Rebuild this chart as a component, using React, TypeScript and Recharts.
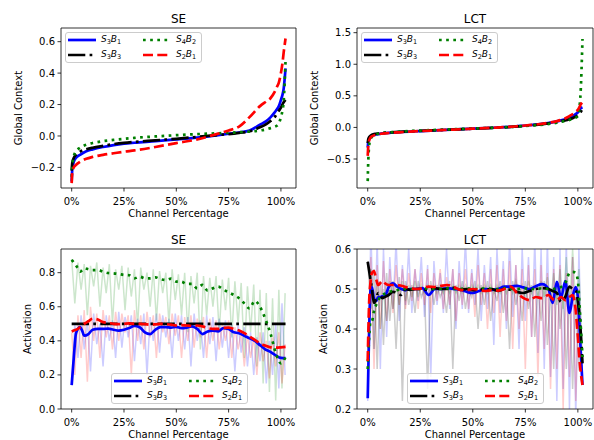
import React from 'react'
import { LineChart, Line, XAxis, YAxis, ReferenceArea, Legend } from 'recharts'

// ─── Data ─────────────────────────────────────────────────────────────────────

const X_TICKS = [0, 25, 50, 75, 100]
const X_DOMAIN: [number, number] = [-5.1, 107.2]

// top row: sorted global-context values per channel percentage
const TOP_X = [0, 0.3, 1, 2, 4, 7, 10, 15, 20, 25, 30, 40, 50, 60, 70, 75, 80, 85, 90, 93, 95, 97, 98, 99, 100, 100.7, 101.3, 102.2]

const SE_GC_S3B1 = [-0.29, -0.21, -0.165, -0.14, -0.12, -0.097, -0.085, -0.07, -0.058, -0.049, -0.043, -0.033, -0.022, -0.01, 0.005, 0.014, 0.022, 0.035, 0.072, 0.095, 0.118, 0.15, 0.168, 0.19, 0.23, 0.26, 0.3, 0.43]
const SE_GC_S3B3 = [-0.22, -0.17, -0.14, -0.12, -0.1, -0.085, -0.075, -0.063, -0.052, -0.044, -0.038, -0.028, -0.018, -0.006, 0.006, 0.012, 0.02, 0.03, 0.055, 0.075, 0.095, 0.12, 0.14, 0.16, 0.18, 0.2, 0.215, 0.23]
const SE_GC_S4B2 = [-0.26, -0.2, -0.13, -0.1, -0.075, -0.055, -0.045, -0.033, -0.025, -0.018, -0.012, -0.003, 0.005, 0.012, 0.017, 0.02, 0.024, 0.028, 0.035, 0.042, 0.05, 0.058, 0.065, 0.08, 0.12, 0.16, 0.22, 0.48]
const SE_GC_S2B1 = [-0.3, -0.23, -0.2, -0.185, -0.165, -0.145, -0.133, -0.12, -0.11, -0.1, -0.092, -0.07, -0.045, -0.022, 0.015, 0.035, 0.06, 0.12, 0.19, 0.22, 0.24, 0.28, 0.31, 0.34, 0.4, 0.46, 0.53, 0.62]

const LCT_GC_S3B1 = [-0.32, -0.22, -0.16, -0.13, -0.11, -0.095, -0.085, -0.075, -0.065, -0.058, -0.05, -0.035, -0.02, -0.005, 0.015, 0.03, 0.045, 0.065, 0.095, 0.12, 0.14, 0.17, 0.19, 0.21, 0.24, 0.27, 0.3, 0.32]
const LCT_GC_S3B3 = [-0.25, -0.18, -0.14, -0.115, -0.1, -0.088, -0.08, -0.07, -0.062, -0.055, -0.048, -0.034, -0.02, -0.006, 0.012, 0.025, 0.04, 0.06, 0.085, 0.105, 0.12, 0.14, 0.155, 0.17, 0.19, 0.21, 0.24, 0.3]
const LCT_GC_S4B2 = [-0.85, -0.5, -0.22, -0.15, -0.11, -0.09, -0.08, -0.068, -0.058, -0.05, -0.043, -0.03, -0.017, -0.004, 0.012, 0.022, 0.035, 0.05, 0.075, 0.095, 0.11, 0.13, 0.14, 0.155, 0.18, 0.3, 0.55, 1.4]
const LCT_GC_S2B1 = [-0.45, -0.28, -0.18, -0.14, -0.115, -0.098, -0.088, -0.077, -0.067, -0.058, -0.05, -0.035, -0.02, -0.005, 0.015, 0.03, 0.045, 0.068, 0.1, 0.13, 0.16, 0.2, 0.22, 0.25, 0.28, 0.32, 0.36, 0.4]

// bottom row: raw activations (faint) and smoothed activations
const RAW_X = [0, 1.5, 3, 4.5, 6, 7.5, 9, 10.5, 12, 13.5, 15, 16.5, 18, 19.5, 21, 22.5, 24, 25.5, 27, 28.5, 30, 31.5, 33, 34.5, 36, 37.5, 39, 40.5, 42, 43.5, 45, 46.5, 48, 49.5, 51, 52.5, 54, 55.5, 57, 58.5, 60, 61.5, 63, 64.5, 66, 67.5, 69, 70.5, 72, 73.5, 75, 76.5, 78, 79.5, 81, 82.5, 84, 85.5, 87, 88.5, 90, 91.5, 93, 94.5, 96, 97.5, 99, 100.5, 102]

const SE_RAW_S3B1 = [
  0.14, 0.5, 0.3, 0.55, 0.35, 0.52, 0.22, 0.56, 0.38, 0.5,
  0.25, 0.55, 0.4, 0.52, 0.3, 0.57, 0.36, 0.54, 0.42, 0.55,
  0.28, 0.53, 0.38, 0.56, 0.2, 0.54, 0.4, 0.56, 0.33, 0.55,
  0.42, 0.53, 0.3, 0.56, 0.4, 0.55, 0.35, 0.54, 0.25, 0.56,
  0.4, 0.52, 0.3, 0.55, 0.38, 0.54, 0.28, 0.53, 0.36, 0.52,
  0.3, 0.5, 0.22, 0.5, 0.33, 0.48, 0.25, 0.45, 0.2, 0.42,
  0.28, 0.45, 0.15, 0.4, 0.2, 0.5, 0.12, 0.62, 0.2,
]
const SE_RAW_S4B2 = [
  0.88, 0.62, 0.86, 0.7, 0.85, 0.55, 0.84, 0.72, 0.86, 0.6,
  0.83, 0.68, 0.85, 0.5, 0.82, 0.7, 0.84, 0.58, 0.83, 0.66,
  0.82, 0.48, 0.83, 0.7, 0.8, 0.6, 0.82, 0.52, 0.81, 0.68,
  0.8, 0.5, 0.82, 0.64, 0.79, 0.55, 0.8, 0.45, 0.78, 0.62,
  0.8, 0.35, 0.78, 0.55, 0.77, 0.6, 0.78, 0.45, 0.76, 0.58,
  0.77, 0.42, 0.75, 0.5, 0.74, 0.3, 0.72, 0.45, 0.73, 0.25,
  0.7, 0.15, 0.68, 0.1, 0.65, 0.05, 0.7, 0.12, 0.68,
]
const SE_RAW_S2B1 = [
  0.45, 0.2, 0.55, 0.3, 0.58, 0.16, 0.6, 0.4, 0.56, 0.3,
  0.58, 0.42, 0.55, 0.35, 0.57, 0.4, 0.56, 0.45, 0.55, 0.2,
  0.58, 0.4, 0.55, 0.35, 0.57, 0.42, 0.55, 0.3, 0.56, 0.45,
  0.54, 0.38, 0.56, 0.43, 0.55, 0.3, 0.54, 0.4, 0.55, 0.36,
  0.53, 0.42, 0.54, 0.3, 0.53, 0.4, 0.52, 0.35, 0.5, 0.4,
  0.52, 0.3, 0.48, 0.35, 0.45, 0.25, 0.44, 0.3, 0.42, 0.2,
  0.45, 0.28, 0.4, 0.18, 0.42, 0.25, 0.45, 0.15, 0.38,
]

const LCT_RAW_S3B1 = [
  0.22, 0.65, 0.35, 0.62, 0.3, 0.6, 0.38, 0.58, 0.45, 0.62,
  0.42, 0.56, 0.46, 0.6, 0.44, 0.55, 0.47, 0.58, 0.43, 0.56,
  0.28, 0.57, 0.46, 0.54, 0.44, 0.6, 0.45, 0.55, 0.4, 0.57,
  0.45, 0.62, 0.44, 0.55, 0.46, 0.6, 0.42, 0.56, 0.45, 0.58,
  0.36, 0.6, 0.44, 0.57, 0.4, 0.62, 0.43, 0.56, 0.35, 0.6,
  0.42, 0.58, 0.38, 0.62, 0.34, 0.6, 0.3, 0.62, 0.28, 0.58,
  0.22, 0.6, 0.25, 0.62, 0.2, 0.58, 0.18, 0.6, 0.26,
]
const LCT_RAW_S3B3 = [
  0.57, 0.45, 0.55, 0.3, 0.52, 0.36, 0.54, 0.42, 0.52, 0.35,
  0.53, 0.22, 0.52, 0.46, 0.51, 0.44, 0.52, 0.48, 0.5, 0.25,
  0.52, 0.46, 0.51, 0.48, 0.5, 0.44, 0.52, 0.3, 0.51, 0.47,
  0.52, 0.45, 0.5, 0.48, 0.52, 0.4, 0.51, 0.46, 0.52, 0.42,
  0.5, 0.47, 0.52, 0.44, 0.51, 0.35, 0.52, 0.46, 0.5, 0.42,
  0.52, 0.45, 0.51, 0.38, 0.5, 0.42, 0.52, 0.36, 0.5, 0.3,
  0.52, 0.4, 0.48, 0.3, 0.5, 0.25, 0.48, 0.3, 0.31,
]
const LCT_RAW_S4B2 = [
  0.3, 0.55, 0.35, 0.52, 0.4, 0.5, 0.42, 0.52, 0.45, 0.51,
  0.46, 0.52, 0.47, 0.51, 0.48, 0.52, 0.48, 0.51, 0.49, 0.51,
  0.49, 0.51, 0.49, 0.51, 0.49, 0.51, 0.49, 0.51, 0.49, 0.51,
  0.49, 0.51, 0.49, 0.51, 0.49, 0.51, 0.49, 0.51, 0.49, 0.51,
  0.49, 0.51, 0.49, 0.51, 0.49, 0.51, 0.49, 0.52, 0.49, 0.51,
  0.48, 0.52, 0.49, 0.51, 0.48, 0.52, 0.48, 0.53, 0.47, 0.54,
  0.46, 0.55, 0.45, 0.58, 0.44, 0.6, 0.45, 0.55, 0.35,
]
const LCT_RAW_S2B1 = [
  0.32, 0.58, 0.3, 0.56, 0.4, 0.57, 0.42, 0.55, 0.44, 0.56,
  0.46, 0.55, 0.45, 0.54, 0.47, 0.55, 0.45, 0.54, 0.46, 0.55,
  0.44, 0.54, 0.47, 0.55, 0.45, 0.53, 0.46, 0.55, 0.42, 0.54,
  0.46, 0.55, 0.45, 0.54, 0.43, 0.56, 0.46, 0.54, 0.4, 0.55,
  0.44, 0.56, 0.38, 0.55, 0.42, 0.57, 0.35, 0.56, 0.4, 0.55,
  0.3, 0.56, 0.38, 0.55, 0.28, 0.56, 0.35, 0.54, 0.25, 0.55,
  0.3, 0.56, 0.2, 0.54, 0.28, 0.58, 0.22, 0.5, 0.26,
]

const SE_SM_X = [0, 1, 2, 3, 4, 5, 6, 8, 10, 12.5, 15, 17.5, 20, 22.5, 25, 27.5, 30, 32.5, 35, 37.5, 40, 42.5, 45, 47.5, 50, 52.5, 55, 57.5, 60, 62.5, 65, 67.5, 70, 72.5, 75, 77.5, 80, 82.5, 85, 87.5, 90, 92.5, 95, 97.5, 100, 102.2]

const SE_SM_S3B1 = [
  0.14, 0.3, 0.44, 0.47, 0.48, 0.46, 0.43, 0.44, 0.465, 0.47,
  0.47, 0.472, 0.465, 0.46, 0.465, 0.475, 0.488, 0.48, 0.45, 0.44,
  0.465, 0.48, 0.48, 0.478, 0.482, 0.475, 0.478, 0.485, 0.47, 0.44,
  0.455, 0.46, 0.455, 0.475, 0.47, 0.45, 0.445, 0.43, 0.415, 0.4,
  0.375, 0.35, 0.335, 0.315, 0.3, 0.298,
]
const SE_SM_S3B3 = [
  0.5, 0.5, 0.5, 0.5, 0.5, 0.5, 0.5, 0.5, 0.5, 0.5,
  0.5, 0.5, 0.5, 0.5, 0.5, 0.5, 0.5, 0.5, 0.5, 0.5,
  0.5, 0.5, 0.5, 0.5, 0.5, 0.5, 0.5, 0.5, 0.5, 0.5,
  0.5, 0.5, 0.5, 0.5, 0.5, 0.5, 0.5, 0.5, 0.5, 0.5,
  0.5, 0.5, 0.5, 0.5, 0.5, 0.5,
]
const SE_SM_S4B2 = [
  0.875, 0.86, 0.845, 0.825, 0.806, 0.815, 0.826, 0.82, 0.815, 0.816,
  0.806, 0.798, 0.796, 0.792, 0.787, 0.785, 0.767, 0.777, 0.767, 0.767,
  0.773, 0.762, 0.757, 0.765, 0.748, 0.747, 0.734, 0.734, 0.708, 0.728,
  0.695, 0.708, 0.718, 0.7, 0.685, 0.669, 0.65, 0.62, 0.59, 0.635,
  0.6, 0.53, 0.444, 0.33, 0.268, 0.305,
]
const SE_SM_S2B1 = [
  0.455, 0.46, 0.465, 0.47, 0.48, 0.49, 0.5, 0.515, 0.53, 0.525,
  0.51, 0.505, 0.5, 0.498, 0.5, 0.502, 0.5, 0.5, 0.498, 0.495,
  0.497, 0.5, 0.498, 0.495, 0.49, 0.492, 0.49, 0.488, 0.49, 0.485,
  0.475, 0.47, 0.47, 0.475, 0.478, 0.47, 0.46, 0.445, 0.425, 0.405,
  0.385, 0.372, 0.362, 0.36, 0.362, 0.365,
]

const LCT_SM_X = [0, 0.7, 1.4, 2, 3, 4, 5, 6, 7, 8, 10, 12, 14, 16, 18, 20, 23, 26, 29, 32, 35, 38, 41, 44, 47, 50, 53, 56, 59, 62, 65, 68, 71, 74, 77, 80, 83, 86, 88, 90, 92, 94, 96, 97.5, 99, 100, 101, 102.2]

const LCT_SM_S3B1 = [
  0.227, 0.4, 0.5, 0.505, 0.475, 0.47, 0.48, 0.48, 0.482, 0.48,
  0.505, 0.514, 0.506, 0.5, 0.497, 0.5,
  0.5, 0.502, 0.485, 0.5, 0.5, 0.502, 0.5, 0.498, 0.493, 0.49, 0.495, 0.5, 0.498, 0.5, 0.506, 0.506, 0.508, 0.504, 0.5, 0.507,
  0.512, 0.5,
  0.465, 0.518, 0.478, 0.52, 0.44,
  0.48, 0.505, 0.48, 0.38, 0.26,
]
const LCT_SM_S3B3 = [
  0.568, 0.545, 0.52, 0.5, 0.465, 0.475, 0.49, 0.485, 0.477, 0.48,
  0.485, 0.493, 0.49, 0.485, 0.5, 0.498,
  0.5, 0.5, 0.497, 0.502, 0.5, 0.5, 0.503, 0.498, 0.5, 0.497, 0.5, 0.498, 0.5, 0.495, 0.5, 0.498, 0.493, 0.49, 0.495, 0.5,
  0.502, 0.5,
  0.495, 0.49, 0.468, 0.48, 0.506,
  0.5, 0.497, 0.47, 0.42, 0.314,
]
const LCT_SM_S4B2 = [
  0.3, 0.38, 0.42, 0.42, 0.445, 0.46, 0.472, 0.48, 0.485, 0.488,
  0.493, 0.495, 0.497, 0.5, 0.5, 0.5,
  0.5, 0.5, 0.502, 0.5, 0.5, 0.502, 0.5, 0.5, 0.502, 0.5, 0.5, 0.502, 0.5, 0.5, 0.502, 0.5, 0.5, 0.502, 0.5, 0.5,
  0.502, 0.5,
  0.5, 0.502, 0.505, 0.515, 0.54,
  0.543, 0.54, 0.52, 0.44, 0.33,
]
const LCT_SM_S2B1 = [
  0.32, 0.47, 0.52, 0.54, 0.545, 0.525, 0.51, 0.515, 0.52, 0.515,
  0.51, 0.51, 0.51, 0.508, 0.505, 0.502,
  0.5, 0.502, 0.506, 0.505, 0.508, 0.51, 0.505, 0.498, 0.497, 0.5, 0.498, 0.495, 0.497, 0.496, 0.5, 0.506, 0.49, 0.478, 0.472, 0.48,
  0.477, 0.485,
  0.475, 0.472, 0.48, 0.472, 0.48,
  0.485, 0.445, 0.38, 0.31, 0.26,
]

// ─── Styles ───────────────────────────────────────────────────────────────────

const FONT = '"DejaVu Sans", sans-serif'
const LW = 2.7

type Key = 's3b1' | 's3b3' | 's4b2' | 's2b1'

const SERIES: Record<Key, { color: string; dash?: string; sub: [string, string] }> = {
  s3b1: { color: '#0000ff', sub: ['3', '1'] },
  s3b3: { color: '#000000', dash: '17.3 4.3 2.7 4.3', sub: ['3', '3'] },
  s4b2: { color: '#008000', dash: '2.7 4.45', sub: ['4', '2'] },
  s2b1: { color: '#ff0000', dash: '10 4.3', sub: ['2', '1'] },
}
const DRAW_ORDER: Key[] = ['s3b1', 's3b3', 's4b2', 's2b1']
const LEGEND_ORDER: Key[] = ['s3b1', 's4b2', 's3b3', 's2b1'] // 2 columns, filled column-wise

// ─── Helpers ──────────────────────────────────────────────────────────────────

type Pt = { x: number; y: number }
const zip = (xs: number[], ys: number[]): Pt[] => xs.map((x, i) => ({ x, y: ys[i] }))

const fmtPct = (v: number) => `${v}%`
const fmtNum = (v: number) => (v < -1e-9 ? '\u2212' : '') + Math.abs(v).toFixed(1)

const subStyle: React.CSSProperties = { fontSize: 6.5, position: 'relative', top: 2, fontStyle: 'normal' }

function SeriesLabel({ k }: { k: Key }) {
  const [a, b] = SERIES[k].sub
  return (
    <span>
      <i>S</i><span style={subStyle}>{a}</span><i>B</i><span style={subStyle}>{b}</span>
    </span>
  )
}

function LegendBox() {
  return (
    <div style={{
      width: 137, height: 31, boxSizing: 'border-box',
      background: 'rgba(255,255,255,0.8)', border: '1px solid #cccccc', borderRadius: 3,
      display: 'grid', gridTemplateColumns: '75px auto', gridTemplateRows: '15px 15px',
      alignContent: 'center', paddingLeft: 2,
      fontFamily: FONT, fontSize: 9, color: '#000', lineHeight: '15px',
    }}>
      {LEGEND_ORDER.map((k) => (
        <div key={k} style={{ display: 'flex', alignItems: 'center', whiteSpace: 'nowrap' }}>
          <svg width={28} height={8} style={{ display: 'block' }}>
            <line x1={0} y1={4} x2={28} y2={4} stroke={SERIES[k].color} strokeWidth={LW} strokeDasharray={SERIES[k].dash} />
          </svg>
          <span style={{ marginLeft: 5 }}><SeriesLabel k={k} /></span>
        </div>
      ))}
    </div>
  )
}

// ─── Panel ────────────────────────────────────────────────────────────────────

interface PanelProps {
  left: number
  top: number
  width: number
  title: string
  yLabel: string
  yLabelX: number
  yDomain: [number, number]
  yTicks: number[]
  legendLeft: number
  legendTop: number
  smoothX: number[]
  smooth: Record<Key, number[]>
  smoothType: 'monotone' | 'linear'
  rawX?: number[]
  raw?: Partial<Record<Key, number[]>>
}

function Panel(p: PanelProps) {
  const H = 220
  const M = { top: 28, right: 1, bottom: 2, left: 0 }
  const cy = M.top + (H - M.top - M.bottom - 30) / 2
  const tickStyle = { fontSize: 10, fill: '#000', fontFamily: FONT }

  return (
    <div style={{ position: 'absolute', left: p.left, top: p.top }}>
      <LineChart width={p.width} height={H} margin={M}>
        <XAxis
          type="number" dataKey="x" domain={X_DOMAIN} ticks={X_TICKS} allowDataOverflow
          tickFormatter={fmtPct} tick={tickStyle} tickSize={3.5} tickMargin={6}
          tickLine={{ stroke: '#000', strokeWidth: 0.8 }} axisLine={false} height={30}
          label={{ value: 'Channel Percentage', position: 'insideBottom', offset: 1.4, fontSize: 10, fill: '#000', fontFamily: FONT }}
        />
        <YAxis
          type="number" domain={p.yDomain} ticks={p.yTicks} allowDataOverflow
          tickFormatter={fmtNum} tick={tickStyle} tickSize={3.5} tickMargin={2.5}
          tickLine={{ stroke: '#000', strokeWidth: 0.8 }} axisLine={false} width={61}
          label={() => (
            <text x={p.yLabelX} y={cy} transform={`rotate(-90 ${p.yLabelX} ${cy})`} textAnchor="middle"
              fontSize={10} fontFamily={FONT} fill="#000">{p.yLabel}</text>
          )}
        />
        <ReferenceArea
          x1={X_DOMAIN[0]} x2={X_DOMAIN[1]} y1={p.yDomain[0]} y2={p.yDomain[1]}
          fill="none" stroke="#000" strokeWidth={0.8} ifOverflow="visible"
          label={{ value: p.title, position: 'top', offset: 5, fontSize: 12, fill: '#000', fontFamily: FONT }}
        />

        {p.raw && p.rawX && DRAW_ORDER.filter((k) => p.raw![k]).map((k) => (
          <Line
            key={`raw-${k}`}
            data={zip(p.rawX!, p.raw![k]!)}
            dataKey="y"
            type="linear"
            stroke={SERIES[k].color}
            strokeOpacity={0.2}
            strokeWidth={1.5}
            dot={false}
            activeDot={false}
            legendType="none"
            isAnimationActive={false}
          />
        ))}

        {DRAW_ORDER.map((k) => (
          <Line
            key={k}
            name={k}
            data={zip(p.smoothX, p.smooth[k])}
            dataKey="y"
            type={p.smoothType}
            stroke={SERIES[k].color}
            strokeWidth={LW}
            strokeDasharray={SERIES[k].dash}
            dot={false}
            activeDot={false}
            isAnimationActive={false}
          />
        ))}

        <Legend
          verticalAlign="middle"
          align="center"
          content={() => <LegendBox />}
          wrapperStyle={{ left: p.legendLeft, top: p.legendTop, width: 137, height: 31 }}
        />
      </LineChart>
    </div>
  )
}

// ─── App ──────────────────────────────────────────────────────────────────────

export default function App() {
  return (
    <div style={{ position: 'absolute', left: 0, top: 0, width: 594, height: 440, overflow: 'hidden', background: '#fff' }}>
      <Panel
        left={0} top={0} width={297} title="SE" yLabel="Global Context" yLabelX={22}
        yDomain={[-0.331, 0.687]} yTicks={[-0.2, 0, 0.2, 0.4, 0.6]}
        legendLeft={65} legendTop={32}
        smoothX={TOP_X} smoothType="monotone"
        smooth={{ s3b1: SE_GC_S3B1, s3b3: SE_GC_S3B3, s4b2: SE_GC_S4B2, s2b1: SE_GC_S2B1 }}
      />
      <Panel
        left={296} top={0} width={298} title="LCT" yLabel="Global Context" yLabelX={22}
        yDomain={[-0.959, 1.574]} yTicks={[-0.5, 0, 0.5, 1.0, 1.5]}
        legendLeft={65} legendTop={32}
        smoothX={TOP_X} smoothType="monotone"
        smooth={{ s3b1: LCT_GC_S3B1, s3b3: LCT_GC_S3B3, s4b2: LCT_GC_S4B2, s2b1: LCT_GC_S2B1 }}
      />
      <Panel
        left={0} top={221} width={297} title="SE" yLabel="Activation" yLabelX={31}
        yDomain={[0, 0.939]} yTicks={[0, 0.2, 0.4, 0.6, 0.8]}
        legendLeft={111} legendTop={152}
        smoothX={SE_SM_X} smoothType="monotone"
        smooth={{ s3b1: SE_SM_S3B1, s3b3: SE_SM_S3B3, s4b2: SE_SM_S4B2, s2b1: SE_SM_S2B1 }}
        rawX={RAW_X}
        raw={{ s3b1: SE_RAW_S3B1, s4b2: SE_RAW_S4B2, s2b1: SE_RAW_S2B1 }}
      />
      <Panel
        left={296} top={221} width={298} title="LCT" yLabel="Activation" yLabelX={31}
        yDomain={[0.2, 0.6]} yTicks={[0.2, 0.3, 0.4, 0.5, 0.6]}
        legendLeft={111} legendTop={152}
        smoothX={LCT_SM_X} smoothType="monotone"
        smooth={{ s3b1: LCT_SM_S3B1, s3b3: LCT_SM_S3B3, s4b2: LCT_SM_S4B2, s2b1: LCT_SM_S2B1 }}
        rawX={RAW_X}
        raw={{ s3b1: LCT_RAW_S3B1, s3b3: LCT_RAW_S3B3, s4b2: LCT_RAW_S4B2, s2b1: LCT_RAW_S2B1 }}
      />
    </div>
  )
}
